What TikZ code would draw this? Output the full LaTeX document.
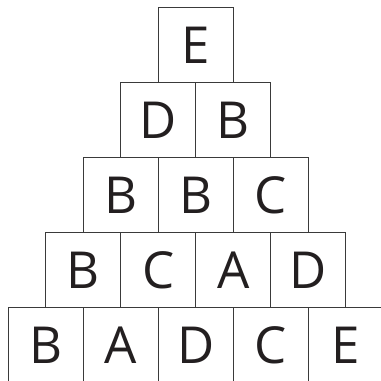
\documentclass[tikz,border=0pt]{standalone}
\usepackage{fontspec}
\usepackage{tikz}
\newfontfamily\blockfont{Open Sans}
\definecolor{boxLine}{HTML}{3A3A3A}
\definecolor{letterInk}{HTML}{231F20}

\begin{document}
\begin{tikzpicture}[x=1pt, y=1pt,
  block/.style={draw=boxLine, line width=0.9pt, minimum size=75pt, inner sep=0pt,
                fill=white, text=letterInk, font=\blockfont\fontsize{51}{51}\selectfont}
]
\useasboundingbox (0,0) rectangle (381,381);
% rows from the top, each one box wider than the row above
\foreach \row/\letters in {0/{E}, 1/{D,B}, 2/{B,B,C}, 3/{B,C,A,D}, 4/{B,A,D,C,E}}
  \foreach \ltr [count=\i from 0] in \letters
    \node[block] (b\row-\i) at ({195.7 - 37.5*\row + 75*\i}, {336.2 - 75*\row}) {\ltr};
\end{tikzpicture}
\end{document}
